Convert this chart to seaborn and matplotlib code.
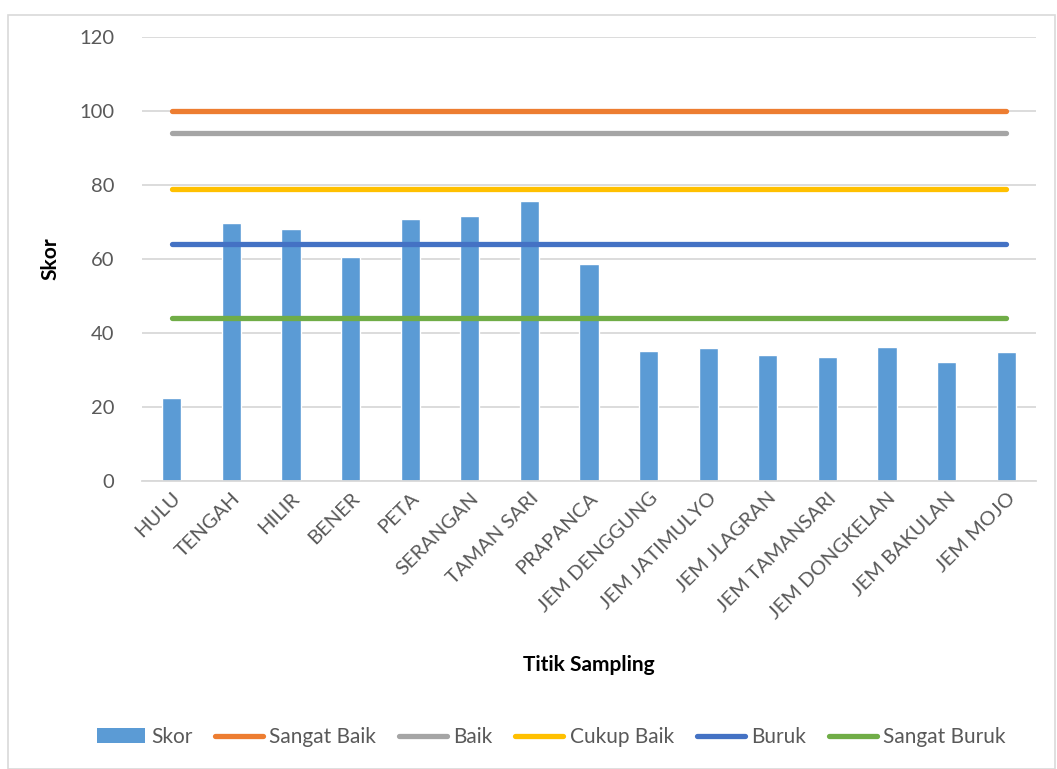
import matplotlib
matplotlib.use("Agg")
import matplotlib.pyplot as plt
import seaborn as sns
import pandas as pd
from matplotlib.patches import Rectangle, Patch
from matplotlib.lines import Line2D

categories = ["HULU", "TENGAH", "HILIR", "BENER", "PETA", "SERANGAN", "TAMAN SARI",
              "PRAPANCA", "JEM DENGGUNG", "JEM JATIMULYO", "JEM JLAGRAN",
              "JEM TAMANSARI", "JEM DONGKELAN", "JEM BAKULAN", "JEM MOJO"]
skor = [22.4, 69.7, 68.1, 60.5, 70.8, 71.6, 75.7, 58.6, 35.1, 35.9, 34.0, 33.5, 36.2, 32.2, 34.9]

threshold_names = ["Sangat Baik", "Baik", "Cukup Baik", "Buruk", "Sangat Buruk"]
threshold_values = [100, 94, 79, 64, 44]
threshold_colors = ["#ED7D31", "#A5A5A5", "#FFC000", "#4472C4", "#70AD47"]
bar_color = "#5B9BD5"
yticks = [0, 20, 40, 60, 80, 100, 120]

sns.set_theme(style="white")
plt.rcParams['font.family'] = ['Lato', 'DejaVu Sans']
text_color = "#595959"

fig = plt.figure(figsize=(10.57, 7.69), dpi=100)
ax = fig.add_axes([142/1057, 1-481/769, (1036-142)/1057, (481-37)/769])

df = pd.DataFrame({"Titik": categories, "Skor": skor})
sns.barplot(data=df, x="Titik", y="Skor", color=bar_color, width=0.32,
            saturation=1, ax=ax, zorder=2)

n = len(categories)
for name, val, col in zip(threshold_names, threshold_values, threshold_colors):
    ax.plot(range(n), [val] * n, color=col, lw=3.8, solid_capstyle="round", zorder=3)

ax.set_xlim(-0.5, n - 0.5)
ax.set_ylim(0, 120)
ax.set_yticks(yticks)
ax.yaxis.grid(True, color="#D9D9D9", lw=1.3, zorder=0)
ax.set_axisbelow(True)
for s in ["top", "right", "left"]:
    ax.spines[s].set_visible(False)
ax.spines["bottom"].set_color("#D9D9D9")
ax.spines["bottom"].set_linewidth(1.3)

ax.tick_params(axis="y", length=0, pad=20, labelsize=14.5, labelcolor=text_color)
ax.tick_params(axis="x", length=0, pad=6, labelsize=14.5, labelcolor=text_color)
plt.setp(ax.get_xticklabels(), rotation=45, ha="right", rotation_mode="anchor")

ax.set_ylabel("Skor", fontsize=15, fontweight="bold", color="black")
ax.yaxis.set_label_coords((60-142)/894, 0.5)
ax.set_xlabel("Titik Sampling", fontsize=15, fontweight="bold", color="black")
ax.xaxis.set_label_coords(0.5, (481-655)/444)

handles = [Patch(facecolor=bar_color, edgecolor="none")]
for col in threshold_colors:
    handles.append(Line2D([0], [0], color=col, lw=3.8, solid_capstyle="round"))
labels = ["Skor"] + threshold_names
fig.legend(handles, labels, loc="center", bbox_to_anchor=(551/1057, 1-737/769),
           ncol=6, frameon=False, fontsize=15, handlelength=2.3,
           handletextpad=0.3, columnspacing=1.1, labelcolor=text_color)

fig.patches.append(Rectangle((8/1057, 0.0), 1047/1057, 1-15/769, transform=fig.transFigure,
                             fill=False, edgecolor="#D9D9D9", lw=1.2))

fig.savefig("out.png", dpi=100)
